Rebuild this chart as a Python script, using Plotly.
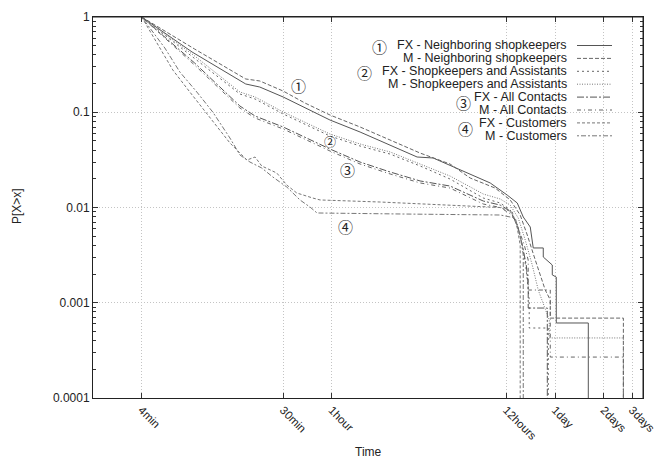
import plotly.graph_objects as go

# ---------------- data (time in minutes, P[X>x]) ----------------
ZERO = 1e-6  # CCDF reaching zero (drawn off the bottom of the log axis)

fx_neigh_t = [4, 8.2, 17.6, 21.5, 30, 40.9, 58.4, 89.7, 137.5, 202, 254, 412, 572, 729, 841, 916,
              1012, 1056, 1218, 1218, 1385, 1385, 1466, 1466, 2313, 2313]
fx_neigh_p = [1, 0.429, 0.198, 0.184, 0.1446, 0.1108, 0.0829, 0.062, 0.0453, 0.0339, 0.0331, 0.0230,
              0.0181, 0.0135, 0.01115, 0.00795, 0.00624, 0.00376, 0.00376, 0.00302, 0.00249, 0.00196,
              0.00186, 0.000613, 0.000613, ZERO]

m_neigh_t = [4, 8.5, 17.6, 21.5, 30, 40.9, 58.4, 89.7, 137.5, 210.8, 323, 430, 614, 761, 877, 970,
             1087, 1167, 1253, 1346, 1346, 3812, 3812]
m_neigh_p = [1, 0.461, 0.2235, 0.213, 0.167, 0.125, 0.0936, 0.070, 0.0511, 0.0373, 0.0286, 0.0204,
             0.0160, 0.012, 0.00834, 0.00514, 0.00281, 0.00196, 0.00136, 0.00107, 0.00069, 0.00069, ZERO]

fx_sa_t = [4, 8.5, 16.2, 20.1, 30, 58.4, 89.7, 137.5, 210.8, 323, 518, 660, 761, 841, 903, 956,
           997, 997, 1308, 1308]
fx_sa_p = [1, 0.371, 0.1554, 0.1378, 0.0959, 0.0563, 0.0442, 0.0364, 0.0273, 0.0199, 0.01258, 0.01115,
           0.0094, 0.00655, 0.00404, 0.00221, 0.00107, 0.000543, 0.000543, ZERO]

m_sa_t = [4, 8.5, 16.2, 20.1, 30, 58.4, 89.7, 137.5, 210.8, 323, 518, 660, 761, 853, 942, 1041,
          1134, 1253, 1327, 1327, 3812, 3812]
m_sa_p = [1, 0.390, 0.1632, 0.1446, 0.1006, 0.0591, 0.0464, 0.0383, 0.0286, 0.0214, 0.01386, 0.01228,
          0.0106, 0.00776, 0.00456, 0.00249, 0.00136, 0.00084, 0.000659, 0.000427, 0.000427, ZERO]

fx_all_t = [4, 8.5, 16.2, 20.1, 30, 58.4, 89.7, 137.5, 210.8, 323, 518, 660, 761, 841, 903, 956,
            983, 983, 1290, 1290]
fx_all_p = [1, 0.329, 0.1163, 0.0913, 0.070, 0.0411, 0.0300, 0.0236, 0.0190, 0.0168, 0.0117, 0.0106,
            0.00919, 0.00655, 0.00404, 0.00249, 0.00154, 0.00088, 0.00088, ZERO]

m_all_t = [4, 8.5, 16.2, 20.1, 30, 58.4, 89.7, 137.5, 210.8, 323, 518, 660, 783, 853, 929, 983,
           983, 1346, 1346, 3812, 3812]
m_all_p = [1, 0.313, 0.1108, 0.0870, 0.0667, 0.0392, 0.0286, 0.0225, 0.0181, 0.0160, 0.01088, 0.01,
           0.00834, 0.00609, 0.00404, 0.00281, 0.00136, 0.00136, 0.000269, 0.000269, ZERO]

fx_cust_t = [4, 5.18, 6.23, 7.94, 10.1, 14.05, 17.9, 20.1, 22.1, 27.4, 31.6, 36.4, 45.7, 50.7, 119,
             280, 660, 783, 841, 877, 877]
fx_cust_p = [1, 0.473, 0.278, 0.1632, 0.098, 0.0476, 0.0315, 0.0339, 0.0273, 0.023, 0.0172, 0.0142,
             0.01258, 0.012, 0.01142, 0.0106, 0.01, 0.00897, 0.00609, 0.00404, ZERO]

m_cust_t = [4, 5.56, 6.89, 8.77, 11.0, 14.05, 16.2, 18.7, 22.1, 25.9, 31.6, 38.1, 44.0, 48.6, 158.6,
            660, 817, 877, 916, 916]
m_cust_p = [1, 0.473, 0.2646, 0.1632, 0.1006, 0.0537, 0.0356, 0.0300, 0.026, 0.0209, 0.0164, 0.012,
            0.0101, 0.00876, 0.00855, 0.00834, 0.00776, 0.00514, 0.00317, ZERO]

series_names = ["FX - Neighboring shopkeepers", "M - Neighboring shopkeepers",
                "FX - Shopkeepers and Assistants", "M - Shopkeepers and Assistants",
                "FX - All Contacts", "M - All Contacts",
                "FX - Customers", "M - Customers"]
series_t = [fx_neigh_t, m_neigh_t, fx_sa_t, m_sa_t, fx_all_t, m_all_t, fx_cust_t, m_cust_t]
series_p = [fx_neigh_p, m_neigh_p, fx_sa_p, m_sa_p, fx_all_p, m_all_p, fx_cust_p, m_cust_p]

x_tick_vals = [4, 30, 60, 720, 1440, 2880, 4320]
x_tick_text = ["4min", "30min", "1hour", "12hours", "1day", "2days", "3days"]
y_tick_vals = [0.0001, 0.001, 0.01, 0.1, 1]
y_tick_text = ["0.0001", "0.001", "0.01", "0.1", "1"]

# ---------------- styling ----------------
dashes = ["solid", "4px,2px", "2px,3px", "1px,1.5px", "7px,2px,2px,2px", "4px,3px,1px,3px",
          "3px,2px", "2px,2px,5px,2px"]
colors = ["#555", "#666", "#666", "#777", "#555", "#666", "#777", "#777"]
FONT = "Liberation Sans, Arial, Helvetica, sans-serif"
CIRC = "Noto Sans CJK JP, DejaVu Sans, sans-serif"

fig = go.Figure()
for name, t, p, d, c in zip(series_names, series_t, series_p, dashes, colors):
    fig.add_trace(go.Scatter(x=t, y=p, mode="lines", name=name,
                             line=dict(color=c, width=1, dash=d), showlegend=False))

# plot-area geometry (px) used to place the hand-drawn legend
L, R, T, B = 93, 643, 17, 398
W, H = R - L, B - T
def px(x):
    return (x - L) / W
def py(y):
    return (B - y) / H

annotations = []
shapes = []
row0, row_step = 45.5, 12.9
for i, (name, d, c) in enumerate(zip(series_names, dashes, colors)):
    y = row0 + i * row_step
    annotations.append(dict(x=px(569), y=py(y), xref="paper", yref="paper", text=name,
                            showarrow=False, xanchor="right", yanchor="middle",
                            font=dict(family=FONT, size=12.5, color="#222")))
    shapes.append(dict(type="line", xref="paper", yref="paper", x0=px(577), x1=px(612),
                       y0=py(y), y1=py(y), line=dict(color=c, width=1, dash=d)))

# plot frame (top and right sides)
shapes.append(dict(type="line", xref="paper", yref="paper", x0=0, x1=1, y0=1, y1=1,
                   line=dict(color="#222", width=1)))
shapes.append(dict(type="line", xref="paper", yref="paper", x0=1, x1=1, y0=0, y1=1,
                   line=dict(color="#222", width=1)))

# circled labels in the legend
for txt, x, y in [("①", 379, 46.5), ("②", 364, 72.5), ("③", 463, 102.5), ("④", 465, 128.5)]:
    annotations.append(dict(x=px(x), y=py(y), xref="paper", yref="paper", text=txt,
                            showarrow=False, xanchor="center", yanchor="middle",
                            font=dict(family=CIRC, size=15, color="#222")))
# circled labels in the plot
for txt, x, y, s in [("①", 298, 85, 15), ("②", 330, 141, 12), ("③", 347, 169, 15), ("④", 345, 226, 15)]:
    annotations.append(dict(x=px(x), y=py(y), xref="paper", yref="paper", text=txt,
                            showarrow=False, xanchor="center", yanchor="middle",
                            font=dict(family=CIRC, size=s, color="#222")))

# axis titles
annotations.append(dict(x=px(368), y=py(452), xref="paper", yref="paper", text="Time",
                        showarrow=False, xanchor="center", yanchor="middle",
                        font=dict(family=FONT, size=12, color="#222")))
annotations.append(dict(x=px(17), y=py(206), xref="paper", yref="paper", text="P[X>x]",
                        showarrow=False, xanchor="center", yanchor="middle", textangle=-90,
                        font=dict(family=FONT, size=12, color="#222")))

minor_y = [m * 10 ** e for e in range(-4, 0) for m in range(2, 10)]

fig.update_layout(
    width=657, height=464,
    margin=dict(l=L, r=657 - R, t=T, b=464 - B, autoexpand=False),
    paper_bgcolor="white", plot_bgcolor="white",
    font=dict(family=FONT, size=11, color="#222"),
    annotations=annotations, shapes=shapes,
    xaxis=dict(type="log", range=[0.30103, 3.70243], tickmode="array", automargin=False,
               tickvals=x_tick_vals, ticktext=x_tick_text, tickangle=45,
               ticklabeloverflow="allow",
               ticks="inside", ticklen=5, tickcolor="#333", showline=True, linecolor="#222",
               linewidth=1, mirror="ticks", showgrid=True, gridcolor="#c4c4c4",
               griddash="1px,2px", gridwidth=1, zeroline=False,
               tickfont=dict(family=FONT, size=11.5, color="#222")),
    yaxis=dict(type="log", range=[-4, 0], tickmode="array", automargin=False,
               tickvals=y_tick_vals, ticktext=y_tick_text,
               ticks="inside", ticklen=5, tickcolor="#333", showline=True, linecolor="#222",
               linewidth=1, mirror="ticks", showgrid=True, gridcolor="#c4c4c4",
               griddash="1px,2px", gridwidth=1, zeroline=False,
               minor=dict(tickvals=minor_y, ticks="inside", ticklen=3, tickcolor="#333",
                          showgrid=False),
               tickfont=dict(family=FONT, size=12, color="#222")),
)

fig.write_html("out.html", config={"displayModeBar": False},
               post_script="document.body.style.margin='0';document.body.style.overflow='hidden';")
